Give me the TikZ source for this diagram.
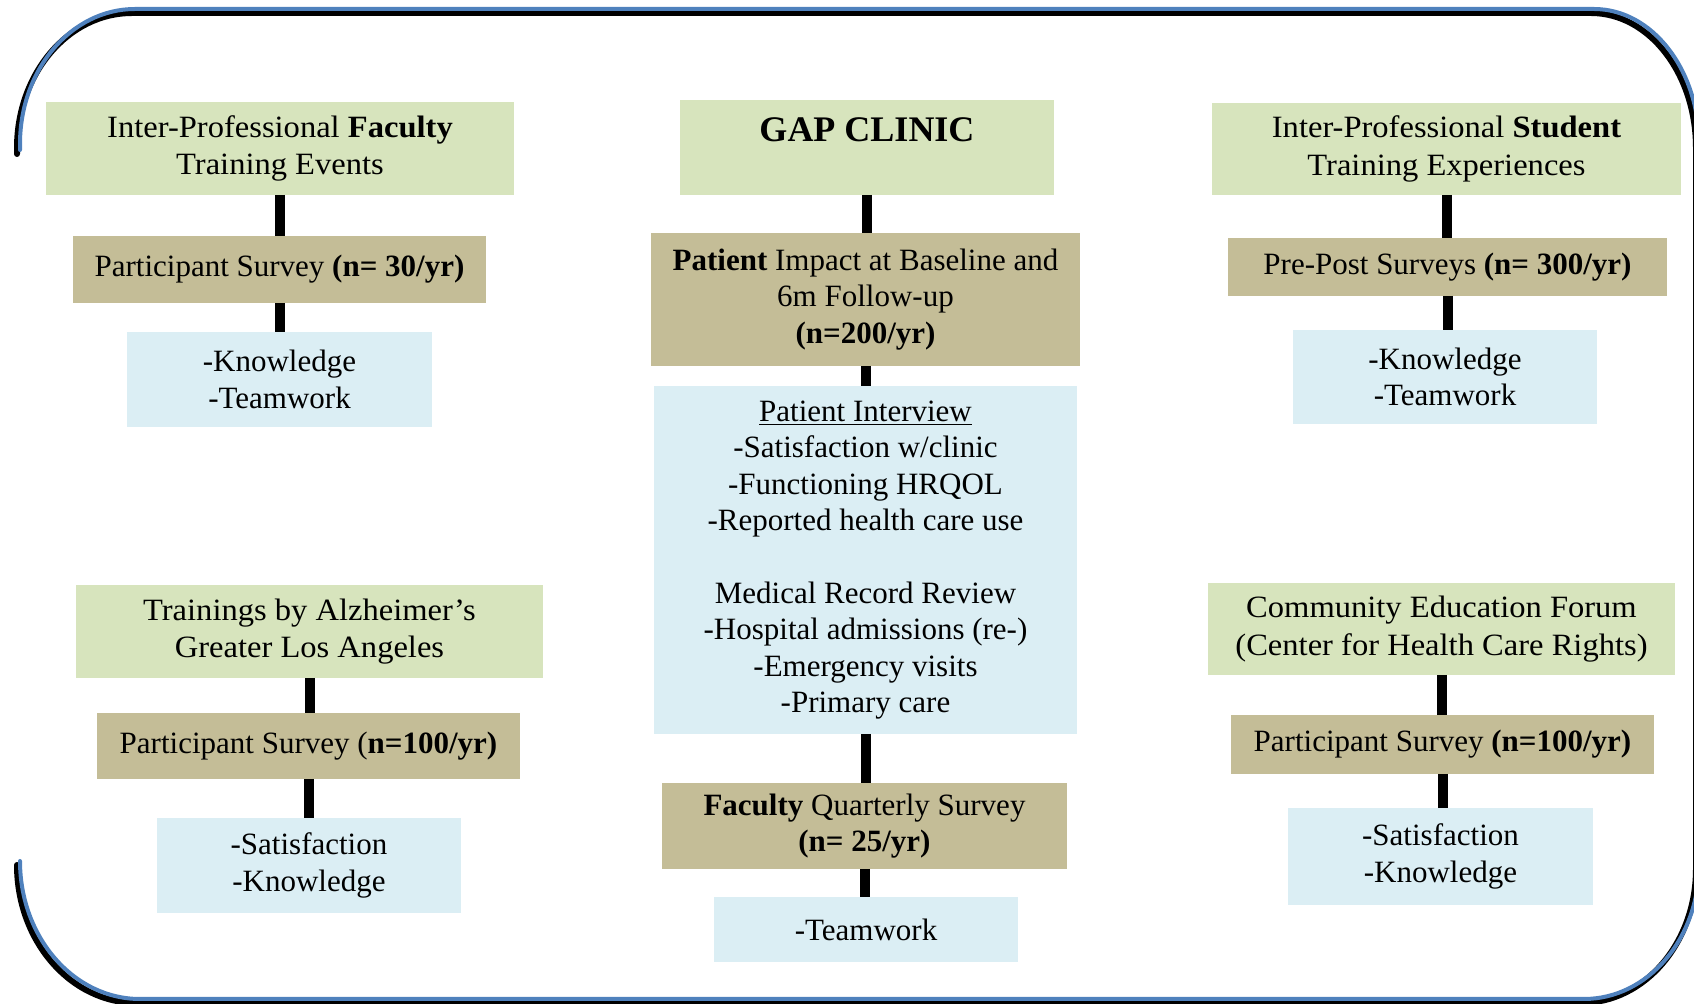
\documentclass[tikz,border=0pt]{standalone}
\usepackage{fontspec}
\setmainfont{Liberation Serif}
\newfontfamily\camb[FakeStretch=1.05]{Liberation Serif}
\definecolor{gfill}{HTML}{D7E4BD}
\definecolor{tfill}{HTML}{C4BD97}
\definecolor{bfill}{HTML}{DBEEF4}
\definecolor{fblue}{HTML}{4F81BD}
\tikzset{
  box/.style={inner sep=0pt, outer sep=0pt, align=center, font=\fontsize{15.5}{18.2}\selectfont},
  gbox/.style={box, fill=gfill, font=\camb\fontsize{15.5}{18.6}\selectfont},
  tbox/.style={box, fill=tfill},
  bbox/.style={box, fill=bfill},
  link/.style={line width=5pt, black},
  frameline/.style={line width=2pt, fblue, line cap=round},
  frameshadow/.style={line width=3pt, black, line cap=round},
}
\begin{document}
\begin{tikzpicture}[x=0.5pt, y=-0.5pt]
\useasboundingbox (0,0) rectangle (1694,1004);
\begin{scope}
\clip (0,0) rectangle (1694,1004);
\begin{scope}[shift={(-3,4)}]
\draw[frameshadow] (20,150) -- (20,144) .. controls (20,69.4) and (71.5,9) .. (135,9) -- (1594,9) .. controls (1652,9) and (1699,69.4) .. (1699,144) -- (1699,865) .. controls (1699,939) and (1647.5,999) .. (1584,999) -- (140,999) .. controls (73.7,999) and (20,937.2) .. (20,861);
\end{scope}
\draw[frameline] (20,150) -- (20,144) .. controls (20,69.4) and (71.5,9) .. (135,9) -- (1594,9) .. controls (1652,9) and (1699,69.4) .. (1699,144) -- (1699,865) .. controls (1699,939) and (1647.5,999) .. (1584,999) -- (140,999) .. controls (73.7,999) and (20,937.2) .. (20,861);
\end{scope}

% left top column
\node[gbox, minimum width=234pt, minimum height=46.5pt] (ga) at (280,148.5) {Inter-Professional \textbf{Faculty}\\Training Events};
\node[tbox, minimum width=206.5pt, minimum height=33.5pt] (ta) at (279.5,269.5) {Participant Survey \textbf{(n= 30/yr)}};
\node[bbox, minimum width=152.5pt, minimum height=47.5pt] (ba) at (279.5,379.5) {-Knowledge\\-Teamwork};

% left bottom column
\node[gbox, minimum width=233.5pt, minimum height=46.5pt] (gb) at (309.5,631.5) {Trainings by Alzheimer’s\\Greater Los Angeles};
\node[tbox, minimum width=211.5pt, minimum height=33pt] (tb) at (308.5,746) {Participant Survey (\textbf{n=100/yr)}};
\node[bbox, minimum width=152pt, minimum height=47.5pt] (bb) at (309,865.5) {-Satisfaction\\-Knowledge};

% center column
\node[gbox, minimum width=187pt, minimum height=47.5pt] (gc) at (867,147.5) {};
\node[anchor=base, font=\fontsize{18}{21}\selectfont\bfseries] (gctext) at (867,142) {GAP CLINIC};
\node[tbox, minimum width=214.5pt, minimum height=66.5pt] (tc) at (865.5,299.5) {\textbf{Patient} Impact at Baseline and\\6m Follow-up\\\textbf{(n=200/yr)}};
\node[bbox, minimum width=211.5pt, minimum height=174pt] (bc) at (865.5,560) {\underline{Patient Interview}\\-Satisfaction w/clinic\\-Functioning HRQOL\\-Reported health care use\\\strut\\Medical Record Review\\-Hospital admissions (re-)\\-Emergency visits\\-Primary care};
\node[tbox, minimum width=202.5pt, minimum height=43pt] (tc2) at (864.5,826) {\textbf{Faculty} Quarterly Survey\\\textbf{(n= 25/yr)}};
\node[bbox, minimum width=152pt, minimum height=32.5pt] (bc2) at (866,929.5) {-Teamwork};

% right top column
\node[gbox, minimum width=234.5pt, minimum height=46pt] (gd) at (1446.5,149) {Inter-Professional \textbf{Student}\\Training Experiences};
\node[tbox, minimum width=219.5pt, minimum height=29pt] (td) at (1447.5,267) {Pre-Post Surveys \textbf{(n= 300/yr)}};
\node[bbox, minimum width=152pt, minimum height=47pt] (bd) at (1445,377) {-Knowledge\\-Teamwork};

% right bottom column
\node[gbox, minimum width=233.5pt, minimum height=46pt] (ge) at (1441.5,629) {Community Education Forum\\(Center for Health Care Rights)};
\node[tbox, minimum width=211.5pt, minimum height=29.5pt] (te) at (1442.5,744.5) {Participant Survey \textbf{(n=100/yr)}};
\node[bbox, minimum width=152.5pt, minimum height=48.5pt] (be) at (1440.5,856.5) {-Satisfaction\\-Knowledge};

% connectors
\draw[link] (ga.south) -- (ga.south |- ta.north);
\draw[link] (ta.south) -- (ta.south |- ba.north);
\draw[link] (gb.south) -- (gb.south |- tb.north);
\draw[link] (tb.south) -- (tb.south |- bb.north);
\draw[link] (gc.south) -- (gc.south |- tc.north);
\draw[link] (tc.south) -- (tc.south |- bc.north);
\draw[link] (bc.south) -- (bc.south |- tc2.north);
\draw[link] (tc2.south) -- (tc2.south |- bc2.north);
\draw[link] (gd.south) -- (gd.south |- td.north);
\draw[link] (td.south) -- (td.south |- bd.north);
\draw[link] (ge.south) -- (ge.south |- te.north);
\draw[link] (te.south) -- (te.south |- be.north);
\end{tikzpicture}
\end{document}
